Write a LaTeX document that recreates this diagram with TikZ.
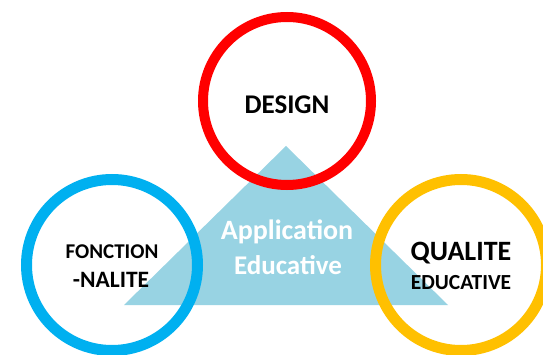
\documentclass[tikz,border=0pt]{standalone}
\usepackage{fontspec}
\setmainfont{Carlito}
\definecolor{ringred}{RGB}{255,0,0}
\definecolor{ringblue}{RGB}{0,176,240}
\definecolor{ringyellow}{RGB}{255,192,0}
\definecolor{trifill}{RGB}{152,211,227}

\begin{document}
\begin{tikzpicture}[
		x=1pt, y=-1pt,
		ring/.style={circle, draw, fill=none, inner sep=0pt},
		word/.style={inner sep=0pt, font=\bfseries}
	]
  \useasboundingbox (0,0) rectangle (543,355);
  % central triangle
  \coordinate (t_top) at (286,146);
  \coordinate (t_left) at (124,305);
  \coordinate (t_right) at (448,305);
  \fill[trifill] (t_left) -- (t_top) -- (t_right) -- cycle;
  \node (app) [word, text=white, font=\bfseries\fontsize{28}{32}\selectfont] at (287,232) {Application};
  \node (edu) [word, text=white, font=\bfseries\fontsize{27}{32}\selectfont] at (288,265) {Educative};
  % rings
  \node (design) [ring, draw=ringred, line width=10pt, minimum size=168pt] at (287,101) {};
  \node (fonct) [ring, draw=ringblue, line width=11pt, minimum size=171pt] at (112,265) {};
  \node (qual) [ring, draw=ringyellow, line width=11pt, minimum size=171pt] at (461,265) {};
  % ring labels
  \node (design_t) [word, font=\bfseries\fontsize{27}{30}\selectfont] at (287,105) {DESIGN};
  \node (fonct_a) [word, font=\bfseries\fontsize{21}{24}\selectfont] at (112,252) {FONCTION};
  \node (fonct_b) [word, font=\bfseries\fontsize{23.5}{26}\selectfont] at (111,280) {-NALITE};
  \node (qual_a) [word, font=\bfseries\fontsize{28}{32}\selectfont] at (461,253) {QUALITE};
  \node (qual_b) [word, font=\bfseries\fontsize{21.5}{24}\selectfont] at (461,283) {EDUCATIVE};
\end{tikzpicture}
\end{document}
